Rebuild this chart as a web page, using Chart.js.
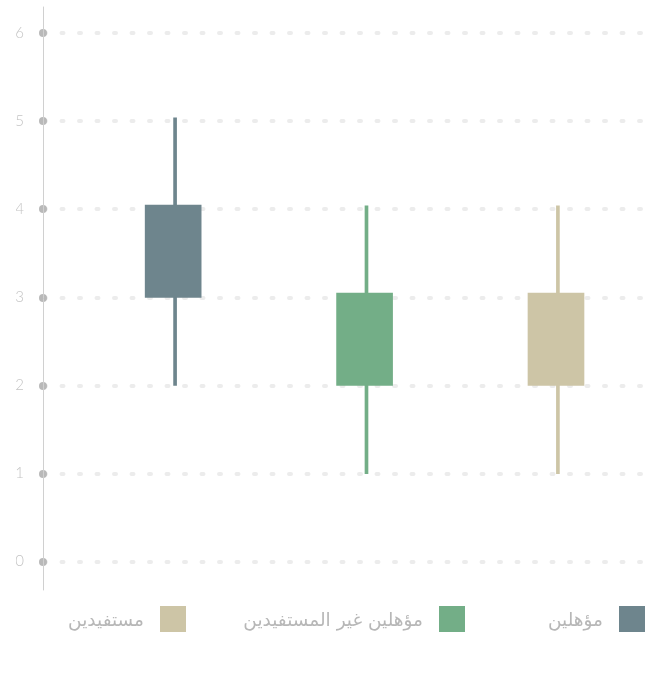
<!DOCTYPE html>
<html>
<head>
<meta charset="utf-8">
<script src="https://cdn.jsdelivr.net/npm/chart.js@4"></script>
<style>
  body { margin: 0; background: #fff; }
  #wrap { position: relative; width: 661px; height: 673px; }
  #legend {
    position: absolute; top: 606px; right: 16px;
    display: flex; direction: rtl; align-items: center;
    font-family: "DejaVu Sans", "Noto Sans", sans-serif; font-size: 18.5px; color: #b7b7b7;
  }
  #legend .item { display: flex; align-items: center; height: 26px; }
  #legend .item:nth-child(1) { width: 180px; }
  #legend .item:nth-child(2) { width: 279px; }
  #legend .box { width: 26px; height: 26px; margin-left: 16px; }
</style>
</head>
<body>
<div id="wrap">
  <canvas id="chart" width="661" height="673"></canvas>
  <div id="legend"></div>
</div>
<script>
// groups (series) and their box-plot values
const groups = ['مؤهلين', 'مؤهلين غير المستفيدين', 'مستفيدين'];
const positions = [1, 2, 3];
const whiskerMin = [2, 1, 1];
const boxLow = [3, 2, 2];
const boxHigh = [4.05, 3.05, 3.05];
const whiskerMax = [5.04, 4.04, 4.04];
const yTicks = [0, 1, 2, 3, 4, 5, 6];
const colors = ['#6e858d', '#73ae87', '#cdc5a6'];

const datasets = [];
groups.forEach((name, i) => {
    datasets.push({
        label: name,
        data: [{ x: positions[i], y: [boxLow[i], boxHigh[i]] }],
        backgroundColor: colors[i],
        barThickness: 56,
        order: 1
    });
    datasets.push({
        label: name + ' whisker',
        data: [{ x: positions[i] + 0.01, y: [whiskerMin[i], whiskerMax[i]] }],
        backgroundColor: colors[i],
        barThickness: 3,
        order: 2
    });
});

// round caps so the dashed grid becomes dots
const roundCaps = {
    id: 'roundCaps',
    beforeDraw(chart) { chart.ctx.lineCap = 'round'; }
};

const chart = new Chart(document.getElementById('chart'), {
    type: 'bar',
    data: { datasets },
    options: {
        responsive: false,
        animation: false,
        layout: { padding: { left: 16, right: 16, top: 7, bottom: 85 } },
        datasets: { bar: { grouped: false, borderWidth: 0 } },
        plugins: { legend: { display: false }, tooltip: { enabled: false } },
        scales: {
            x: {
                type: 'linear',
                display: false,
                offset: false,
                min: 0.32,
                max: 3.465
            },
            y: {
                min: -0.3,
                max: 6.3,
                afterBuildTicks: (scale) => { scale.ticks = yTicks.map(v => ({ value: v })); },
                afterFit: (scale) => {
                    scale.width = 27;
                    scale.paddingTop = 0;
                    scale.paddingBottom = 0;
                },
                grid: {
                    color: '#ececec',
                    lineWidth: 4,
                    drawTicks: true,
                    tickLength: 0,
                    tickWidth: 8,
                    tickColor: '#b9b9b9'
                },
                border: { color: '#d0d0d0', width: 1, dash: [2, 15.5] },
                ticks: {
                    padding: 19,
                    color: '#c4c4c4',
                    font: { family: 'Lato', size: 15, weight: 300 }
                }
            }
        }
    },
    plugins: [roundCaps]
});

// legend built from the series
const legend = document.getElementById('legend');
groups.forEach((name, i) => {
    const item = document.createElement('div');
    item.className = 'item';
    const box = document.createElement('span');
    box.className = 'box';
    box.style.background = colors[i];
    const text = document.createElement('span');
    text.textContent = name;
    item.appendChild(box);
    item.appendChild(text);
    legend.appendChild(item);
});
</script>
</body>
</html>
